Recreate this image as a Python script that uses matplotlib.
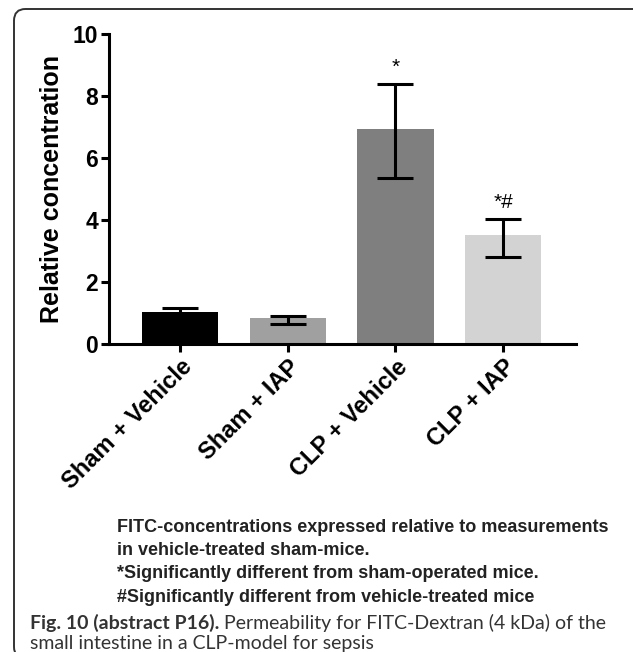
import matplotlib
matplotlib.use("Agg")
import matplotlib.pyplot as plt
from matplotlib.patches import FancyBboxPatch

groups = ["Sham + Vehicle", "Sham + IAP", "CLP + Vehicle", "CLP + IAP"]
means = [1.04, 0.84, 6.94, 3.52]
err_low = [0.12, 0.20, 1.60, 0.70]
err_high = [0.12, 0.05, 1.45, 0.51]
bar_colors = ["#000000", "#a0a0a0", "#7f7f7f", "#d3d3d3"]
marks = ["", "", "*", "*#"]

notes = [
    "FITC-concentrations expressed relative to measurements",
    "in vehicle-treated sham-mice.",
    "*Significantly different from sham-operated mice.",
    "#Significantly different from vehicle-treated mice",
]
fig_title = "Fig. 10 (abstract P16)."
fig_caption = [" Permeability for FITC-Dextran (4 kDa) of the",
               "small intestine in a CLP-model for sepsis"]

W, H = 633, 652
fig = plt.figure(figsize=(W / 100, H / 100), dpi=100)
plt.rcParams["font.family"] = ["Liberation Sans", "DejaVu Sans"]

# outer panel frame, cut off at the right and bottom
frame = FancyBboxPatch((14 / W, -0.01), 1.2, 1 - 9 / H + 0.01,
                       boxstyle="round,pad=0,rounding_size=0.018",
                       transform=fig.transFigure, fill=False,
                       edgecolor="#333333", linewidth=1.4)
fig.patches.append(frame)

ax = fig.add_axes([109 / W, 1 - 344 / H, (576 - 109) / W, (344 - 34) / H])
x = list(range(len(groups)))
ax.bar(x, means, width=0.707, color=bar_colors, zorder=1)
ax.errorbar(x, means, yerr=[err_low, err_high], fmt="none", ecolor="black",
            elinewidth=2.2, capsize=13, capthick=2.2, zorder=2)

for xi, m, eh, s in zip(x, means, err_high, marks):
    if s:
        ax.annotate(s, (xi, m + eh), xytext=(0, 5), textcoords="offset points",
                    ha="center", va="bottom", fontsize=15)

ax.set_xlim(-0.665, 3.679)
ax.set_ylim(0, 10)
ax.set_yticks([0, 2, 4, 6, 8, 10])
ax.set_xticks(x)
ax.set_xticklabels(groups, rotation=45, ha="right", rotation_mode="anchor",
                   fontsize=17, fontweight="bold")
for lbl in ax.get_yticklabels():
    lbl.set_fontweight("bold")
    lbl.set_fontsize(16.5)
ax.set_ylabel("Relative concentration", fontsize=18, fontweight="bold", labelpad=6)
ax.spines["top"].set_visible(False)
ax.spines["right"].set_visible(False)
for sp in ["left", "bottom"]:
    ax.spines[sp].set_linewidth(2.2)
ax.tick_params(axis="both", width=2.2, length=6, direction="out", pad=2)

# footnotes under the chart
y0 = 527
for i, line in enumerate(notes):
    fig.text(117 / W, 1 - (y0 + i * 23.5) / H, line, fontsize=13,
             fontweight="bold", color="#222222", va="center")

# figure caption
cap_font = ["Lato", "DejaVu Sans"]
t = fig.text(30 / W, 1 - 623 / H, fig_title, fontsize=14, fontweight="bold",
             color="#333333", va="center", family=cap_font)
fig.canvas.draw()
bb = t.get_window_extent()
fig.text(bb.x1 / W, 1 - 623 / H, fig_caption[0], fontsize=14,
         color="#333333", va="center", family=cap_font)
fig.text(30 / W, 1 - 644 / H, fig_caption[1], fontsize=14,
         color="#333333", va="center", family=cap_font)

fig.savefig("out.png", dpi=100)
